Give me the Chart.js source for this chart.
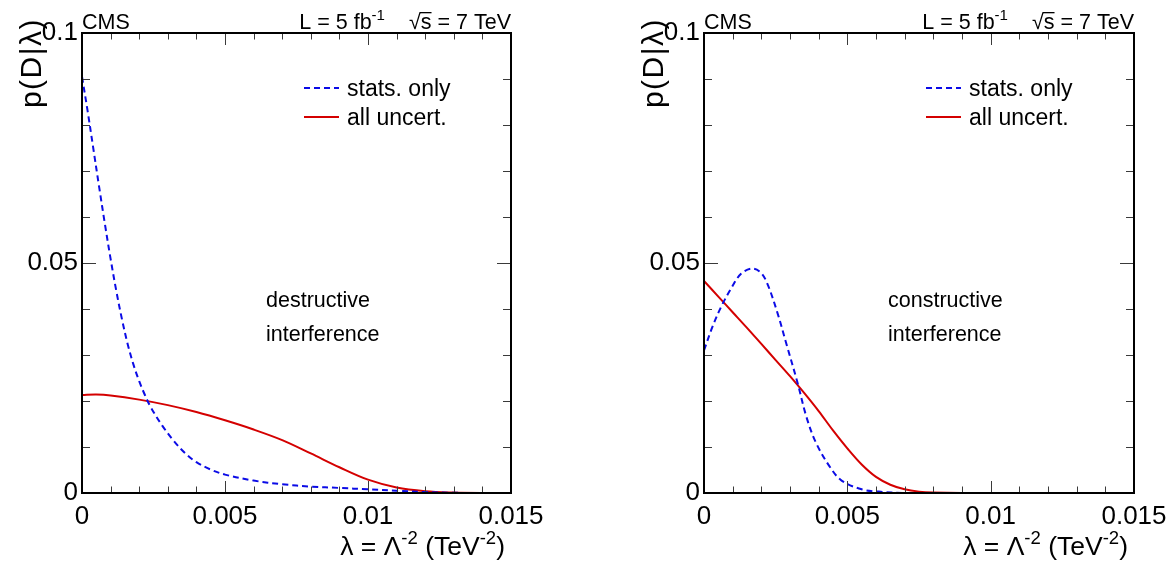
<!DOCTYPE html>
<html><head><meta charset="utf-8">
<script src="https://cdn.jsdelivr.net/npm/chart.js@4.4.1/dist/chart.umd.min.js"></script>
<style>
html,body{margin:0;padding:0;background:#fff;}
#wrap{position:relative;width:1169px;height:563px;overflow:hidden;}
.pane{position:absolute;top:0;height:563px;}
#pL{left:0;width:585px;}
#pR{left:585px;width:584px;}
</style></head><body>
<div id="wrap"><div class="pane" id="pL"><canvas id="cL"></canvas></div><div class="pane" id="pR"><canvas id="cR"></canvas></div></div>
<script>
// ---- data ----
const xTickLabels = ['0', '0.005', '0.01', '0.015'];
const yTickLabels = ['0', '0.05', '0.1'];
const seriesNames = ['stats. only', 'all uncert.'];

// left panel: destructive interference
const leftStatsX = [0, 0.0002, 0.0004, 0.0006, 0.0008, 0.001, 0.0012, 0.0014, 0.0016, 0.0018, 0.002, 0.0022, 0.0024, 0.0028, 0.0032, 0.0036, 0.004, 0.0045, 0.005, 0.006, 0.007, 0.008, 0.009, 0.010, 0.011, 0.012, 0.013, 0.014, 0.015];
const leftStatsY = [0.0905, 0.0829, 0.0747, 0.0665, 0.0585, 0.0509, 0.0439, 0.0377, 0.0323, 0.0279, 0.0243, 0.0213, 0.0187, 0.0147, 0.0114, 0.0087, 0.0067, 0.0051, 0.0040, 0.0027, 0.0019, 0.0014, 0.0011, 0.0008, 0.0005, 0.0002, 0.00005, 0.0, 0.0];
const leftAllX = [0, 0.0005, 0.001, 0.002, 0.003, 0.004, 0.005, 0.006, 0.007, 0.008, 0.009, 0.010, 0.011, 0.012, 0.013, 0.014, 0.015];
const leftAllY = [0.0213, 0.0214, 0.0212, 0.0203, 0.0191, 0.0176, 0.0158, 0.0138, 0.0115, 0.0086, 0.0056, 0.0029, 0.0012, 0.0004, 0.0001, 0.0, 0.0];

// right panel: constructive interference
const rightStatsX = [0, 0.0003, 0.0006, 0.00095, 0.0013, 0.0017, 0.0020, 0.00223, 0.00257, 0.00287, 0.00327, 0.00357, 0.0039, 0.0044, 0.0048, 0.0055, 0.0061, 0.007, 0.015];
const rightStatsY = [0.0310, 0.0362, 0.0405, 0.0445, 0.0477, 0.0488, 0.0478, 0.0452, 0.0390, 0.0325, 0.0238, 0.0166, 0.0110, 0.0056, 0.0027, 0.0008, 0.0003, 0.0, 0.0];
const rightAllX = [0, 0.0005, 0.001, 0.0015, 0.002, 0.0025, 0.003, 0.0035, 0.004, 0.0045, 0.005, 0.0055, 0.006, 0.0065, 0.007, 0.0075, 0.008, 0.009, 0.015];
const rightAllY = [0.0461, 0.0427, 0.0393, 0.0359, 0.0324, 0.0289, 0.0254, 0.0217, 0.0178, 0.0136, 0.0097, 0.0062, 0.0035, 0.0018, 0.0008, 0.0003, 0.0001, 0.0, 0.0];

const FONT = '"Liberation Sans", Arial, Helvetica, sans-serif';
const BLUE = '#0b0be6';
const RED = '#d40000';

const pts = (xs, ys) => xs.map((x, i) => ({x: x, y: ys[i]}));
const xTickVals = Array.from({length: 16}, (_, i) => i / 1000);
const yTickVals = Array.from({length: 11}, (_, i) => i / 100);
const isMajX = v => Math.abs(v * 200 - Math.round(v * 200)) < 1e-6;
const isMajY = v => Math.abs(v * 20 - Math.round(v * 20)) < 1e-6;

function rich(ctx, parts, x, y, size, align) {
  const sup = size * 0.7;
  let w = 0;
  parts.forEach(p => { ctx.font = (p.s ? sup : size) + 'px ' + FONT; p.w = ctx.measureText(p.t).width; w += p.w; });
  let cx = align === 'right' ? x - w : x;
  parts.forEach(p => {
    ctx.font = (p.s ? sup : size) + 'px ' + FONT;
    ctx.fillText(p.t, cx, p.s ? y - size * 0.42 : y);
    cx += p.w;
  });
  return w;
}

const framePlugin = {
  id: 'frame',
  afterDatasetsDraw(chart) {
    const {ctx, chartArea: a, scales: {x, y}} = chart;
    ctx.save();
    ctx.strokeStyle = '#3a3a3a';
    ctx.lineWidth = 1;
    ctx.beginPath();
    x.ticks.forEach(t => {
      const px = Math.round(x.getPixelForValue(t.value)) + 0.5;
      const L = isMajX(t.value) ? 12 : 6.5;
      ctx.moveTo(px, a.bottom); ctx.lineTo(px, a.bottom - L);
      ctx.moveTo(px, a.top); ctx.lineTo(px, a.top + L);
    });
    y.ticks.forEach(t => {
      const py = Math.round(y.getPixelForValue(t.value)) + 0.5;
      const L = isMajY(t.value) ? 14 : 8;
      ctx.moveTo(a.left, py); ctx.lineTo(a.left + L, py);
      ctx.moveTo(a.right, py); ctx.lineTo(a.right - L, py);
    });
    ctx.stroke();
    ctx.strokeStyle = '#000';
    ctx.lineWidth = 2;
    ctx.strokeRect(a.left, a.top, a.right - a.left, a.bottom - a.top);
    ctx.restore();
  }
};

const textPlugin = {
  id: 'texts',
  afterDraw(chart, args, opts) {
    const {ctx, chartArea: a} = chart;
    ctx.save();
    ctx.fillStyle = '#000';
    ctx.textBaseline = 'alphabetic';
    ctx.textAlign = 'left';
    // header
    ctx.font = '21.5px ' + FONT;
    ctx.fillText('CMS', a.left, 29);
    const rs = 's = 7 TeV';
    const wr = ctx.measureText(rs).width;
    const wroot = ctx.measureText('√').width;
    const ws = ctx.measureText('s').width;
    const rx = a.right - wr;
    ctx.fillText(rs, rx, 29);
    ctx.fillText('√', rx - wroot, 29);
    ctx.fillRect(rx - 1, 12, ws + 1, 1.3);
    rich(ctx, [{t: 'L = 5 fb'}, {t: '-1', s: true}], rx - wroot - 24, 29, 21.5, 'right');
    // legend
    const ds = chart.data.datasets;
    const legY = [a.top + 55, a.top + 84];
    ds.forEach((d, i) => {
      ctx.save();
      ctx.strokeStyle = d.borderColor;
      ctx.lineWidth = d.borderWidth;
      ctx.setLineDash(d.borderDash || []);
      ctx.beginPath();
      ctx.moveTo(a.left + 222, legY[i]);
      ctx.lineTo(a.left + 257, legY[i]);
      ctx.stroke();
      ctx.restore();
      ctx.font = '23px ' + FONT;
      ctx.fillText(d.label, a.left + 265, legY[i] + 8);
    });
    // annotation
    ctx.font = '21.5px ' + FONT;
    ctx.fillText(opts.note[0], a.left + 184, 307);
    ctx.fillText(opts.note[1], a.left + 184, 341);
    // x title
    rich(ctx, [{t: 'λ = Λ'}, {t: '-2', s: true}, {t: ' (TeV'}, {t: '-2', s: true}, {t: ')'}], a.right - 6, 555, 26.5, 'right');
    // y title
    ctx.save();
    ctx.translate(a.left - 41, 18);
    ctx.rotate(-Math.PI / 2);
    ctx.textAlign = 'right';
    ctx.font = '30px ' + FONT;
    try { ctx.letterSpacing = '1.5px'; } catch (e) {}
    ctx.fillText('p(D|λ)', 0, 0);
    ctx.restore();
    ctx.restore();
  }
};

function makeChart(id, stats, all, yW, padR, note) {
  return new Chart(document.getElementById(id), {
    type: 'line',
    data: {
      datasets: [
        {label: seriesNames[0], data: stats, borderColor: BLUE, borderWidth: 2, borderDash: [6, 4], pointRadius: 0, fill: false, tension: 0.35},
        {label: seriesNames[1], data: all, borderColor: RED, borderWidth: 2, pointRadius: 0, fill: false, tension: 0.35}
      ]
    },
    options: {
      responsive: true,
      maintainAspectRatio: false,
      animation: false,
      events: [],
      layout: {padding: {top: 33, right: padR, bottom: 0, left: 0}},
      plugins: {legend: {display: false}, tooltip: {enabled: false}, texts: {note: note}},
      scales: {
        x: {
          type: 'linear', min: 0, max: 0.015,
          afterBuildTicks: s => { s.ticks = xTickVals.map(v => ({value: v})); },
          afterFit: s => { s.height = 70; },
          grid: {display: false, drawTicks: false},
          border: {display: false},
          ticks: {
            autoSkip: false, maxRotation: 0, minRotation: 0, padding: 2, color: '#000',
            font: {family: FONT, size: 26, lineHeight: 1.66},
            callback: v => isMajX(v) ? xTickLabels[Math.round(v * 200)] : ''
          }
        },
        y: {
          type: 'linear', min: 0, max: 0.1,
          afterBuildTicks: s => { s.ticks = yTickVals.map(v => ({value: v})); },
          afterFit: s => { s.width = yW; },
          grid: {display: false, drawTicks: false},
          border: {display: false},
          ticks: {
            autoSkip: false, padding: 4, color: '#000',
            font: {family: FONT, size: 26},
            callback: v => isMajY(v) ? yTickLabels[Math.round(v * 20)] : ''
          }
        }
      }
    },
    plugins: [framePlugin, textPlugin]
  });
}

makeChart('cL', pts(leftStatsX, leftStatsY), pts(leftAllX, leftAllY), 82, 74, ['destructive', 'interference']);
makeChart('cR', pts(rightStatsX, rightStatsY), pts(rightAllX, rightAllY), 119, 35, ['constructive', 'interference']);
</script>
</body></html>
